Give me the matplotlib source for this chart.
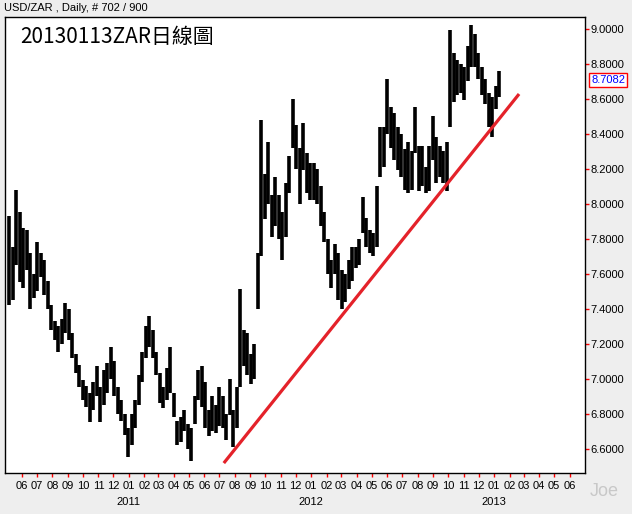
import matplotlib.pyplot as plt
import matplotlib.dates as mdates
import matplotlib.ticker as mticker
import numpy as np
import pandas as pd

# weekly bars (Fridays), high / low
weeks = pd.date_range('2010-05-07', periods=141, freq='W-FRI')
high = [7.93, 7.75, 8.08, 7.95, 7.86, 7.85, 7.72, 7.60, 7.78, 7.72,
        7.68, 7.56, 7.42, 7.33, 7.30, 7.34, 7.43, 7.40, 7.26, 7.14,
        7.08, 6.99, 6.96, 6.92, 6.98, 7.07, 6.95, 7.05, 7.09, 7.18,
        7.10, 6.95, 6.88, 6.80, 6.72, 6.80, 6.88, 7.02, 7.15, 7.30,
        7.36, 7.28, 7.15, 7.03, 6.95, 7.06, 7.18, 6.92, 6.76, 6.78,
        6.82, 6.74, 6.72, 6.90, 7.05, 7.07, 6.98, 6.82, 6.90, 6.85,
        6.95, 6.90, 6.80, 7.00, 6.82, 6.95, 7.51, 7.28, 7.26, 7.14,
        7.20, 7.72, 8.48, 8.17, 8.35, 8.05, 8.15, 8.05, 7.95, 8.12,
        8.27, 8.60, 8.45, 8.32, 8.46, 8.29, 8.23, 8.23, 8.20, 8.10,
        7.95, 7.80, 7.68, 7.77, 7.72, 7.62, 7.60, 7.68, 7.75, 7.75,
        7.80, 8.04, 7.92, 7.85, 7.83, 8.10, 8.44, 8.44, 8.71, 8.55,
        8.52, 8.44, 8.40, 8.31, 8.35, 8.30, 8.55, 8.33, 8.33, 8.21,
        8.33, 8.50, 8.38, 8.33, 8.30, 8.35, 8.99, 8.86, 8.82, 8.80,
        8.78, 8.90, 9.02, 8.97, 8.86, 8.78, 8.71, 8.63, 8.61, 8.67,
        8.76]
low = [7.42, 7.45, 7.65, 7.55, 7.52, 7.62, 7.40, 7.46, 7.50, 7.58,
       7.48, 7.40, 7.28, 7.22, 7.15, 7.20, 7.26, 7.22, 7.12, 7.03,
       6.95, 6.88, 6.84, 6.75, 6.82, 6.90, 6.75, 6.85, 6.92, 7.00,
       6.90, 6.80, 6.76, 6.68, 6.55, 6.62, 6.72, 6.85, 6.98, 7.12,
       7.18, 7.12, 7.02, 6.86, 6.83, 6.88, 6.92, 6.78, 6.62, 6.64,
       6.70, 6.60, 6.53, 6.74, 6.88, 6.84, 6.72, 6.67, 6.70, 6.69,
       6.73, 6.72, 6.65, 6.79, 6.61, 6.72, 6.95, 7.07, 7.02, 6.97,
       7.00, 7.40, 7.70, 7.91, 8.00, 7.81, 7.87, 7.80, 7.68, 7.81,
       8.06, 8.32, 8.20, 8.00, 8.19, 8.06, 8.02, 8.02, 8.00, 7.87,
       7.78, 7.60, 7.52, 7.60, 7.45, 7.40, 7.44, 7.51, 7.56, 7.63,
       7.65, 7.83, 7.75, 7.72, 7.70, 7.75, 8.15, 8.21, 8.40, 8.32,
       8.25, 8.19, 8.15, 8.08, 8.06, 8.08, 8.29, 8.07, 8.10, 8.06,
       8.07, 8.25, 8.12, 8.15, 8.12, 8.07, 8.44, 8.58, 8.62, 8.63,
       8.59, 8.70, 8.78, 8.78, 8.71, 8.62, 8.57, 8.44, 8.38, 8.54,
       8.61]
last_price = 8.7082

# trend line end points
trend_dates = [pd.Timestamp('2011-07-10'), pd.Timestamp('2013-02-20')]
trend_values = [6.518, 8.627]

price_ticks = [6.6, 6.8, 7.0, 7.2, 7.4, 7.6, 7.8, 8.0, 8.2, 8.4, 8.6, 8.8, 9.0]
month_ticks = pd.date_range('2010-06-01', '2013-06-01', freq='MS')
years = [2011, 2012, 2013]

plt.rcParams['font.family'] = ['Liberation Sans', 'DejaVu Sans']

fig = plt.figure(figsize=(6.32, 5.14), dpi=100, facecolor='#eeeeee')
ax = fig.add_axes([5 / 632, 41.3 / 514, 580 / 632, 455.7 / 514])
ax.set_facecolor('white')

ax.vlines(weeks, low, high, color='black', lw=2.6)
ax.plot(trend_dates, trend_values, color='#e4222a', lw=2.3, solid_capstyle='butt')

ax.set_xlim(pd.Timestamp('2010-04-28'), pd.Timestamp('2013-07-02'))
ax.set_ylim(6.463, 9.067)

# right price axis
ax.yaxis.tick_right()
ax.set_yticks(price_ticks)
ax.yaxis.set_major_formatter(mticker.FormatStrFormatter('%.4f'))
ax.tick_params(axis='y', colors='red', labelcolor='black', length=3,
               width=1, pad=1, labelsize=8)

# month axis
ax.set_xticks(month_ticks)
ax.xaxis.set_major_formatter(mdates.DateFormatter('%m'))
ax.tick_params(axis='x', colors='red', labelcolor='black', length=3,
               width=1, pad=3, labelsize=8)
for y in years:
    ax.text(pd.Timestamp(f'{y}-01-01'), -0.064, str(y), transform=ax.get_xaxis_transform(),
            ha='center', va='center', fontsize=8)

for s in ax.spines.values():
    s.set_color('black')
    s.set_linewidth(1)

fig.text(4 / 632, 1 - 8 / 514, 'USD/ZAR , Daily, # 702 / 900', va='center', fontsize=8)
ax.text(15 / 580, 1 - 20 / 455.7, '20130113ZAR日線圖', transform=ax.transAxes,
        fontsize=15, va='center', family=['Noto Sans CJK TC', 'DejaVu Sans'])

fig.text(608 / 632, 1 - 80 / 514, f'{last_price:.4f}', color='blue', ha='center',
         va='center', fontsize=8,
         bbox=dict(boxstyle='square,pad=0.15', fc='white', ec='red', lw=1))
fig.text(604 / 632, 1 - 492 / 514, 'Joe', color='#c8c8c8', fontsize=13,
         ha='center', va='center')

fig.savefig('out.png', dpi=100, facecolor=fig.get_facecolor())
